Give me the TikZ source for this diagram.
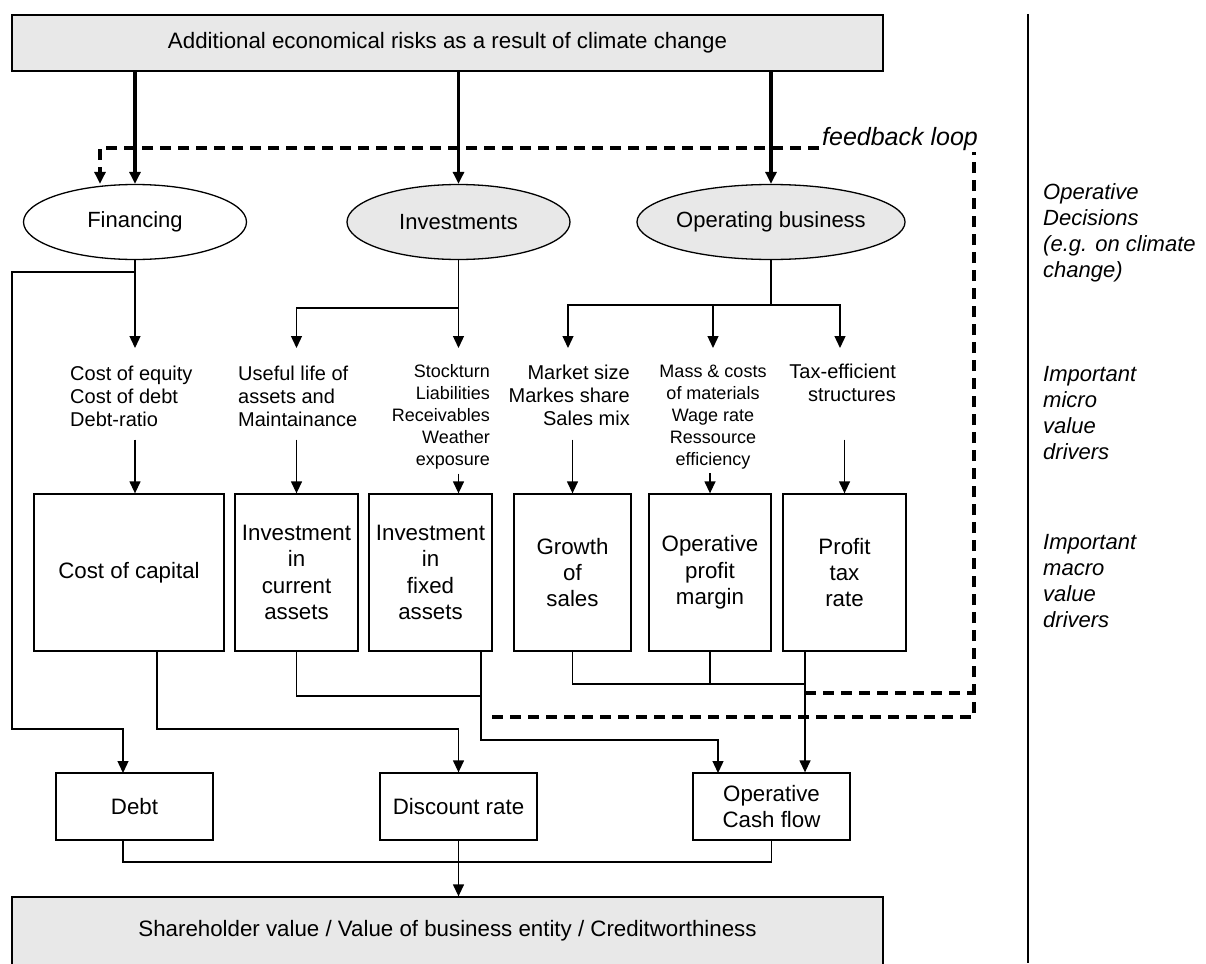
\documentclass[tikz,border=0pt]{standalone}
\usepackage{fontspec}
\setmainfont{Liberation Sans}
\usepackage{tikz}
\usetikzlibrary{shapes.geometric,arrows.meta,positioning,calc}
\tikzset{
block/.style = {draw, fill=white, rectangle, line width=1.3pt, inner sep=0pt, align=center, font=\fontsize{22.3}{26.3}\selectfont},
bar/.style = {block, fill=black!9, minimum width=871pt, minimum height=56pt},
decision/.style = {draw, ellipse, line width=1.3pt, inner sep=0pt, minimum width=223pt, minimum height=75pt, font=\fontsize{22}{26}\selectfont},
driver/.style = {inner sep=0pt, font=\fontsize{20}{23}\selectfont},
smalldriver/.style = {inner sep=0pt, font=\fontsize{18}{22}\selectfont},
macro/.style = {block, minimum width=123pt, minimum height=157pt},
result/.style = {block, minimum width=157pt, minimum height=67pt},
level/.style = {inner sep=0pt, anchor=west, align=left, font=\fontsize{22}{26}\selectfont\itshape},
line/.style = {line width=1.3pt},
heavy/.style = {line width=3.2pt, ->},
feedback/.style = {line width=3.2pt, dash pattern=on 11pt off 7pt}
}

\begin{document}
\begin{tikzpicture}[x=1pt, y=-1pt, >={Triangle[length=12pt,width=11pt]}]
  \path[use as bounding box, fill=white] (0,0) rectangle (1206,963);

  \node [bar]                                        (risk)      at (447.5,43)  {Additional economical risks as a result of climate change};
  \node [decision]                                   (fin)       at (135,222)   {Financing};
  \node [decision, fill=black!9]                     (inv)       at (458.5,222) {Investments};
  \node [decision, fill=black!9, minimum width=224pt] (ops)      at (771,222)   {Operating business};

  \node [driver, anchor=west, align=left]            (drvfin)    at (70,396)    {Cost of equity\\Cost of debt\\Debt-ratio};
  \node [driver, anchor=west, align=left]            (drvlife)   at (238,396)   {Useful life of\\assets and\\Maintainance};
  \node [smalldriver, anchor=east, align=right]      (drvstock)  at (490,417)   {Stockturn\\Liabilities\\Receivables\\Weather\\exposure};
  \node [driver, anchor=east, align=right]           (drvmarket) at (630,395)   {Market size\\Markes share\\Sales mix};
  \node [smalldriver, align=center]                  (drvmass)   at (713,417)   {Mass \& costs\\of materials\\Wage rate\\Ressource\\efficiency};
  \node [driver, anchor=east, align=right]           (drvtax)    at (896,383)   {Tax-efficient\\structures};

  \node [macro, minimum width=190pt]                 (capcost)   at (129,572.5)   {Cost of capital};
  \node [macro]                                      (curassets) at (296.5,572.5) {Investment\\in\\current\\assets};
  \node [macro]                                      (fixassets) at (430.5,572.5) {Investment\\in\\fixed\\assets};
  \node [macro, minimum width=117pt]                 (growth)    at (572.5,572.5) {Growth\\of\\sales};
  \node [macro, minimum width=122pt]                 (margin)    at (710,572.5)   {Operative\\profit\\margin};
  \node [macro]                                      (taxrate)   at (844.5,572.5) {Profit\\tax\\rate};

  \node [result]                                     (debt)      at (134.5,806.5) {Debt};
  \node [result]                                     (discount)  at (458.5,806.5) {Discount rate};
  \node [result]                                     (cashflow)  at (771.5,806.5) {Operative\\Cash flow};
  \node [bar, minimum height=68pt]                   (value)     at (447.5,931)   {Shareholder value / Value of business entity / Creditworthiness};

  \node [level]                                      (lbldec)    at (1043,233) {Operative\\Decisions\\(e.g. on climate\\change)};
  \node [level]                                      (lblmicro)  at (1043,413) {Important\\micro\\value\\drivers};
  \node [level]                                      (lblmacro)  at (1043,581) {Important\\macro\\value\\drivers};

  \coordinate (septop) at (1028,14);
  \coordinate (sepbot) at (1028,963);
  \coordinate (finj)     at (135,272);
  \coordinate (invj)     at (458.5,308);
  \coordinate (opsj)     at (771,305);
  \coordinate (tipfin)   at (135,348);
  \coordinate (tiplife)  at (296.5,348);
  \coordinate (tipstock) at (458.5,348);
  \coordinate (tipmarket) at (568,348);
  \coordinate (tipmass)  at (713,348);
  \coordinate (tiptax)   at (840,348);
  \coordinate (leftbend) at (12,729);
  \coordinate (debtin)   at (123,773);
  \coordinate (debtout)  at (123,840);
  \coordinate (capout)   at (157,651);
  \coordinate (discj)    at (458.5,729);
  \coordinate (fixout)   at (481,651);
  \coordinate (fixj)     at (481,696);
  \coordinate (fixbend)  at (481,740);
  \coordinate (cashin)   at (718,773);
  \coordinate (taxout)   at (805,651);
  \coordinate (taxj)     at (805,684);
  \coordinate (botj)     at (458.5,862);
  \coordinate (fbA)      at (492,717);
  \coordinate (fbB)      at (805,693);
  \coordinate (fbtop)    at (974,148);
  \coordinate (fbleft)   at (100,148);

  \draw [line] (septop) -- (sepbot);

  \draw [heavy] (fin.north |- risk.south) -- (fin.north);
  \draw [heavy] (inv.north |- risk.south) -- (inv.north);
  \draw [heavy] (ops.north |- risk.south) -- (ops.north);

  \draw [feedback] (fbB) -- (fbB -| fbtop);
  \draw [feedback, ->] (fbA) -| (fbtop) -| (fbleft |- fin.north);
  \node [inner sep=1pt, fill=white, font=\fontsize{25}{30}\selectfont\itshape] (fbtext) at (900,139) {feedback loop};

  \draw [line] (fin.south) -- (finj);
  \draw [line, ->] (finj) -- (tipfin);
  \draw [line, ->] (finj) -| (leftbend) -| (debtin);
  \draw [line] (inv.south) -- (invj);
  \draw [line, ->] (invj) -| (tiplife);
  \draw [line, ->] (invj) -- (tipstock);
  \draw [line] (ops.south) -- (opsj);
  \draw [line, ->] (opsj) -| (tipmarket);
  \draw [line, ->] (opsj) -| (tipmass);
  \draw [line, ->] (opsj) -| (tiptax);

  \draw [line, ->, shorten <=13pt] (drvfin.south -| fin) -- (capcost.north -| fin);
  \draw [line, ->, shorten <=13pt] (drvlife.south -| curassets) -- (curassets.north);
  \draw [line, ->, shorten <=4pt] (drvstock.south -| inv) -- (fixassets.north -| inv);
  \draw [line, ->, shorten <=14pt] (drvmarket.south -| growth) -- (growth.north);
  \draw [line, ->, shorten <=4pt] (drvmass.south -| margin) -- (margin.north);
  \draw [line, ->, shorten <=14pt] (drvmarket.south -| taxrate) -- (taxrate.north);

  \draw [line, ->] (capout) |- (discj) -- (discount.north);
  \draw [line] (curassets.south) |- (fixj);
  \draw [line, ->] (fixout) -- (fixbend) -| (cashin);
  \draw [line] (growth.south) |- (taxj);
  \draw [line] (margin.south) -- (margin.south |- taxj);
  \draw [line, ->] (taxout) -- (cashflow.north -| taxout);

  \draw [line] (debtout) |- (botj) -| (cashflow.south);
  \draw [line, ->] (discount.south) -- (value.north -| discount);
\end{tikzpicture}
\end{document}
